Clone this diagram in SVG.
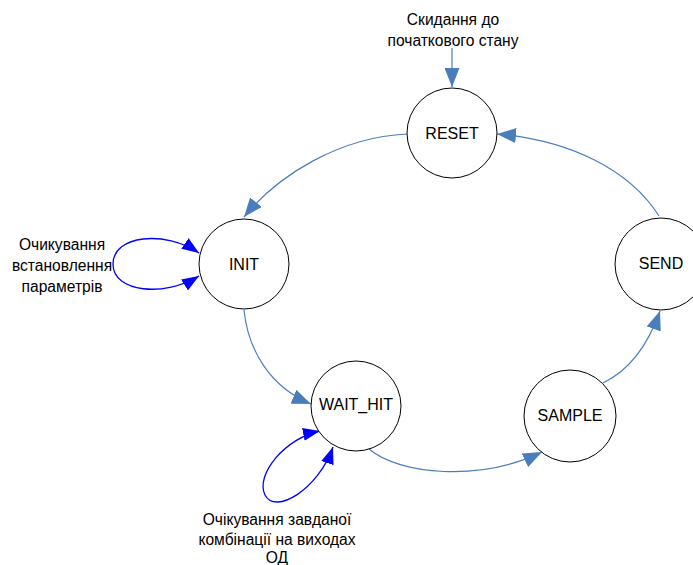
<svg xmlns="http://www.w3.org/2000/svg" width="693" height="565" viewBox="0 0 693 565">
<style>
.node circle{fill:#fff;stroke:#000;stroke-width:1}
.node text,.lbl{font-family:"Liberation Sans",Arial,sans-serif;fill:#000;text-anchor:middle}
.node text{font-size:16px}
.lbl{font-size:15.6px}
.c{fill:none;stroke:#4a7ebb;stroke-width:1.2}
.s{fill:none;stroke:#0000ff;stroke-width:1.3}
</style>
<defs>
<marker id="a" markerUnits="userSpaceOnUse" markerWidth="19" markerHeight="15" refX="19" refY="7.5" orient="auto"><path d="M0,0 L19,7.5 L0,15 z" fill="#4a7ebb"/></marker>
<marker id="b" markerUnits="userSpaceOnUse" markerWidth="17" markerHeight="13" refX="17" refY="6.5" orient="auto-start-reverse"><path d="M0,0 L17,6.5 L0,13 z" fill="#0000ff"/></marker>
</defs>
<g id="connectors">
<path class="c" d="M452,48 L452,87" marker-end="url(#a)"/>
<path class="c" d="M407,134 C340,137 278,175 244,217" marker-end="url(#a)"/>
<path class="c" d="M244,310 C248,350 270,387 311,404" marker-end="url(#a)"/>
<path class="c" d="M369,449 C400,475 480,482 542,452" marker-end="url(#a)"/>
<path class="c" d="M603,383 C630,370 648,345 660,311" marker-end="url(#a)"/>
<path class="c" d="M659,216 C630,170 570,140 497,134" marker-end="url(#a)"/>
<path class="s" d="M199,253 C165,230 113,235 113,264 C113,293 165,297 199,276" marker-start="url(#b)" marker-end="url(#b)"/>
<path class="s" d="M320,431 C285,438 255,475 265,495 C275,515 318,490 333,447" marker-start="url(#b)" marker-end="url(#b)"/>
</g>
<g id="reset" class="node"><circle cx="452" cy="133" r="45"/><text x="452" y="139">RESET</text></g>
<g id="init" class="node"><circle cx="244" cy="264" r="45"/><text x="244" y="270">INIT</text></g>
<g id="wait_hit" class="node"><circle cx="356" cy="406" r="45"/><text x="356" y="410">WAIT_HIT</text></g>
<g id="sample" class="node"><circle cx="570" cy="416" r="46"/><text x="570" y="421">SAMPLE</text></g>
<g id="send" class="node"><circle cx="661" cy="264" r="46"/><text x="661" y="269">SEND</text></g>
<g id="labels">
<text class="lbl" x="453" y="25">Скидання до</text>
<text class="lbl" x="453" y="46">початкового стану</text>
<text class="lbl" x="62" y="250">Очикування</text>
<text class="lbl" x="62" y="271">встановлення</text>
<text class="lbl" x="62" y="292">параметрів</text>
<text class="lbl" x="277" y="525">Очікування завданої</text>
<text class="lbl" x="277" y="545">комбінації на виходах</text>
<text class="lbl" x="277" y="563">ОД</text>
</g>
</svg>
